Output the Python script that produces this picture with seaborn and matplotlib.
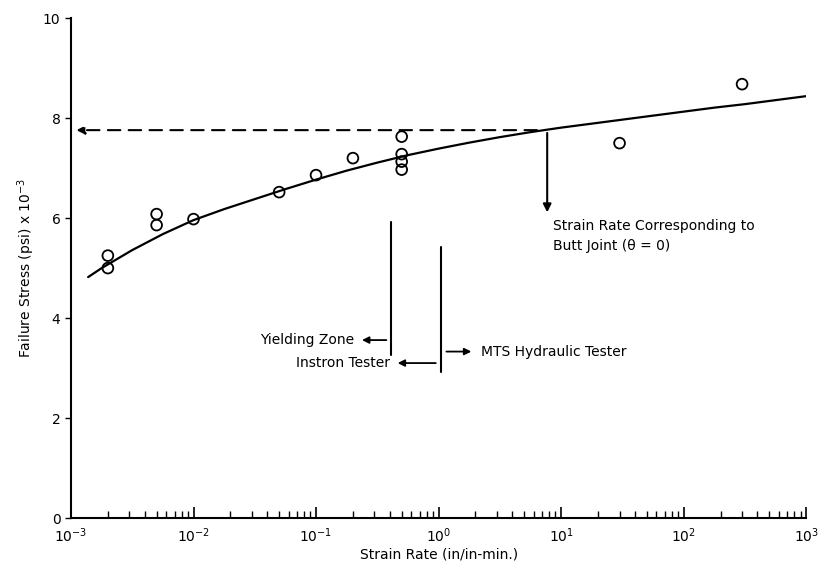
import numpy as np
import pandas as pd
import seaborn as sns
import matplotlib
matplotlib.use("Agg")
import matplotlib.pyplot as plt

# measured data points
strain_rate = [0.002, 0.002, 0.005, 0.005, 0.01, 0.05, 0.1, 0.2, 0.5, 0.5, 0.5, 0.5, 30, 300]
failure_stress = [5.25, 5.0, 6.08, 5.86, 5.98, 6.52, 6.86, 7.2, 7.63, 7.28, 7.13, 6.97, 7.5, 8.68]

# fitted curve
curve_rate = [0.00138, 0.00178, 0.00316, 0.00562, 0.01, 0.0178, 0.0316, 0.0562, 0.1, 0.178,
              0.316, 0.562, 1.0, 1.78, 3.16, 5.62, 10.0, 17.8, 31.6, 56.2, 100.0, 178.0,
              316.0, 562.0, 1000.0]
curve_stress = [4.82, 5.0, 5.36, 5.68, 5.96, 6.18, 6.38, 6.58, 6.77, 6.95,
                7.11, 7.26, 7.39, 7.51, 7.62, 7.72, 7.81, 7.89, 7.97, 8.05, 8.13, 8.21,
                8.28, 8.36, 8.44]

xtick_vals = [1e-3, 1e-2, 1e-1, 1e0, 1e1, 1e2, 1e3]
xtick_labels = ["$10^{-3}$", "$10^{-2}$", "$10^{-1}$", "$10^{0}$", "$10^{1}$", "$10^{2}$", "$10^{3}$"]
ytick_vals = [0, 2, 4, 6, 8, 10]

butt_rate = 7.7
butt_stress = 7.76
yield_rate = 0.41
mts_rate = 1.05

sns.set_style("white")
plt.rcParams['font.family'] = ['DejaVu Sans']
plt.rcParams['text.color'] = 'black'
plt.rcParams['axes.labelcolor'] = 'black'
plt.rcParams['xtick.color'] = 'black'
plt.rcParams['ytick.color'] = 'black'

fig = plt.figure(figsize=(8.38, 5.68), dpi=100)
ax = fig.add_axes([0.0847, 0.088, 0.8773, 0.88])

pts = pd.DataFrame({"rate": strain_rate, "stress": failure_stress})
cur = pd.DataFrame({"rate": curve_rate, "stress": curve_stress})

sns.lineplot(data=cur, x="rate", y="stress", ax=ax, color="black", lw=1.6, sort=True)
sns.scatterplot(data=pts, x="rate", y="stress", ax=ax, marker="o", s=60,
                facecolor="none", edgecolor="black", linewidth=1.3, zorder=5)

ax.set_xscale("log")
ax.set_xlim(1e-3, 1e3)
ax.set_ylim(0, 10)
ax.set_xticks(xtick_vals)
ax.set_xticklabels(xtick_labels, fontsize=10)
ax.set_yticks(ytick_vals)
ax.set_yticklabels([str(v) for v in ytick_vals], fontsize=10)
ax.tick_params(axis="x", which="both", bottom=True, top=False)
ax.tick_params(axis="y", which="both", left=True, right=False)
ax.tick_params(axis="x", which="major", direction="in", length=8, width=1.2, pad=6)
ax.tick_params(axis="x", which="minor", direction="in", length=5, width=1.0)
ax.tick_params(axis="y", which="major", direction="out", length=4, width=1.0)
for s in ["top", "right"]:
    ax.spines[s].set_visible(False)
for s in ["left", "bottom"]:
    ax.spines[s].set_linewidth(1.5)
    ax.spines[s].set_color("black")

ax.set_xlabel("Strain Rate (in/in-min.)", fontsize=10, labelpad=2)
ax.set_ylabel("Failure Stress (psi) x 10$^{-3}$", fontsize=10)

# dashed horizontal arrow to y-axis
ax.annotate("", xy=(1.05e-3, butt_stress), xytext=(butt_rate * 0.87, butt_stress),
            arrowprops=dict(arrowstyle="-|>", color="black", lw=1.5, linestyle=(0, (6, 4)),
                            mutation_scale=12))
# vertical arrow down
ax.annotate("", xy=(butt_rate, 6.06), xytext=(butt_rate, butt_stress),
            arrowprops=dict(arrowstyle="-|>", color="black", lw=1.5, mutation_scale=12))
ax.text(butt_rate * 1.12, 5.98, "Strain Rate Corresponding to\nButt Joint (θ = 0)",
        fontsize=10, va="top", ha="left", linespacing=1.5)

# vertical zone lines
ax.plot([yield_rate, yield_rate], [3.26, 5.92], color="black", lw=1.5)
ax.plot([mts_rate, mts_rate], [2.92, 5.42], color="black", lw=1.5)

ax.annotate("", xy=(0.225, 3.56), xytext=(0.395, 3.56),
            arrowprops=dict(arrowstyle="-|>", color="black", lw=1.3, mutation_scale=10))
ax.text(0.205, 3.56, "Yielding Zone", fontsize=10, ha="right", va="center")

ax.annotate("", xy=(0.44, 3.1), xytext=(1.0, 3.1),
            arrowprops=dict(arrowstyle="-|>", color="black", lw=1.3, mutation_scale=10))
ax.text(0.40, 3.1, "Instron Tester", fontsize=10, ha="right", va="center")

ax.annotate("", xy=(1.95, 3.33), xytext=(1.1, 3.33),
            arrowprops=dict(arrowstyle="-|>", color="black", lw=1.3, mutation_scale=10))
ax.text(2.2, 3.33, "MTS Hydraulic Tester", fontsize=10, ha="left", va="center")

fig.savefig("out.png", dpi=100)
